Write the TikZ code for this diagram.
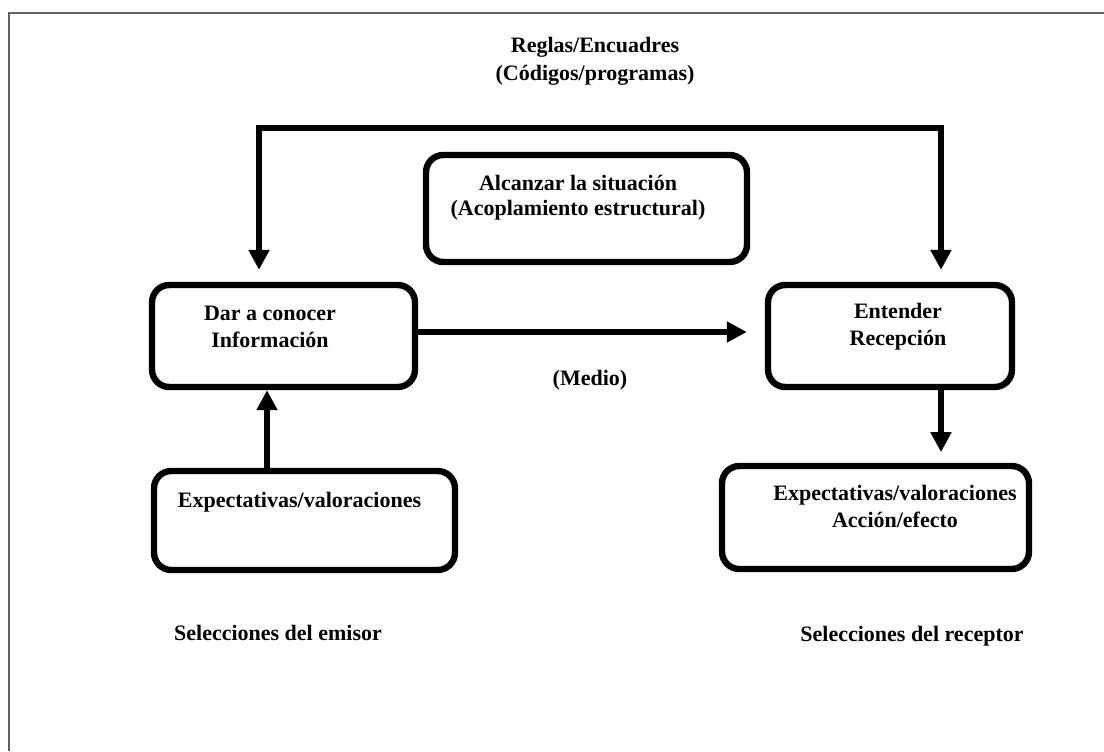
\documentclass[tikz,border=0pt]{standalone}
\usepackage{fontspec}
\setmainfont{Liberation Serif}
\usetikzlibrary{arrows.meta}
\begin{document}
\begin{tikzpicture}[x=0.75pt,y=-0.75pt,
  box/.style={draw, line width=4.8pt, rounded corners=13pt, inner sep=0pt},
  lbl/.style={inner sep=0pt, align=center, text=black,
    font=\fontsize{16.5}{20.25}\selectfont\bfseries},
  flow/.style={line width=4.5pt, -{Triangle[length=15pt,width=15pt]}},
  frameline/.style={draw=black!62, line width=1.5pt}]
\useasboundingbox (0,0) rectangle (1104,751);

% page frame (only top and left edges show)
\coordinate (fbl) at (8.7,751);
\coordinate (ftl) at (8.7,12.7);
\coordinate (ftr) at (1104,12.7);
\draw[frameline] (fbl) -- (ftl) -- (ftr);

% boxes
\node[box, minimum width=197.25pt, minimum height=76.5pt] (dar) at (283.5,336) {};
\node[box, minimum width=183pt, minimum height=76.5pt] (ent) at (890,336) {};
\node[box, minimum width=240.75pt, minimum height=80.25pt] (alc) at (586.5,208.5) {};
\node[box, minimum width=225.75pt, minimum height=74.25pt] (expL) at (304.5,520.5) {};
\node[box, minimum width=230.25pt, minimum height=77.25pt] (expR) at (875.5,517.5) {};

% texts
\node[lbl, font=\fontsize{16.5}{21}\selectfont\bfseries] (reglas) at (595,61)
  {Reglas/Encuadres\\(Códigos/programas)};
\node[lbl, font=\fontsize{16.5}{18.75}\selectfont\bfseries] (alcT) at (578,197.5)
  {Alcanzar la situación\\(Acoplamiento estructural)};
\node[lbl] (darT) at (270,326.5) {Dar a conocer\\Información};
\node[lbl] (entT) at (898,326.5) {Entender\\Recepción};
\node[lbl] (medio) at (590,380) {(Medio)};
\node[lbl] (expLT) at (299.5,502) {Expectativas/valoraciones};
\node[lbl] (expRT) at (895,506.5) {Expectativas/valoraciones\\Acción/efecto};
\node[lbl] (selE) at (278,633) {Selecciones del emisor};
\node[lbl] (selR) at (912,636) {Selecciones del receptor};

% connectors
\coordinate (barL) at (259,128);
\coordinate (barR) at (941,128);
\coordinate (mid) at (590,332);
\coordinate (upx) at (267,0);
\draw[line width=4.5pt, {Triangle[length=15pt,width=15pt]}-{Triangle[length=15pt,width=15pt]},
      shorten <=9pt, shorten >=9pt]
  (barL |- dar.north) -- (barL) -- (barR) -- (barR |- ent.north);
\draw[flow, shorten >=13.5pt] (dar.east |- mid) -- (ent.west |- mid);
\draw[flow] (expL.north -| upx) -- (dar.south -| upx);
\draw[flow, shorten >=8pt] (ent.south -| barR) -- (expR.north -| barR);
\end{tikzpicture}
\end{document}
